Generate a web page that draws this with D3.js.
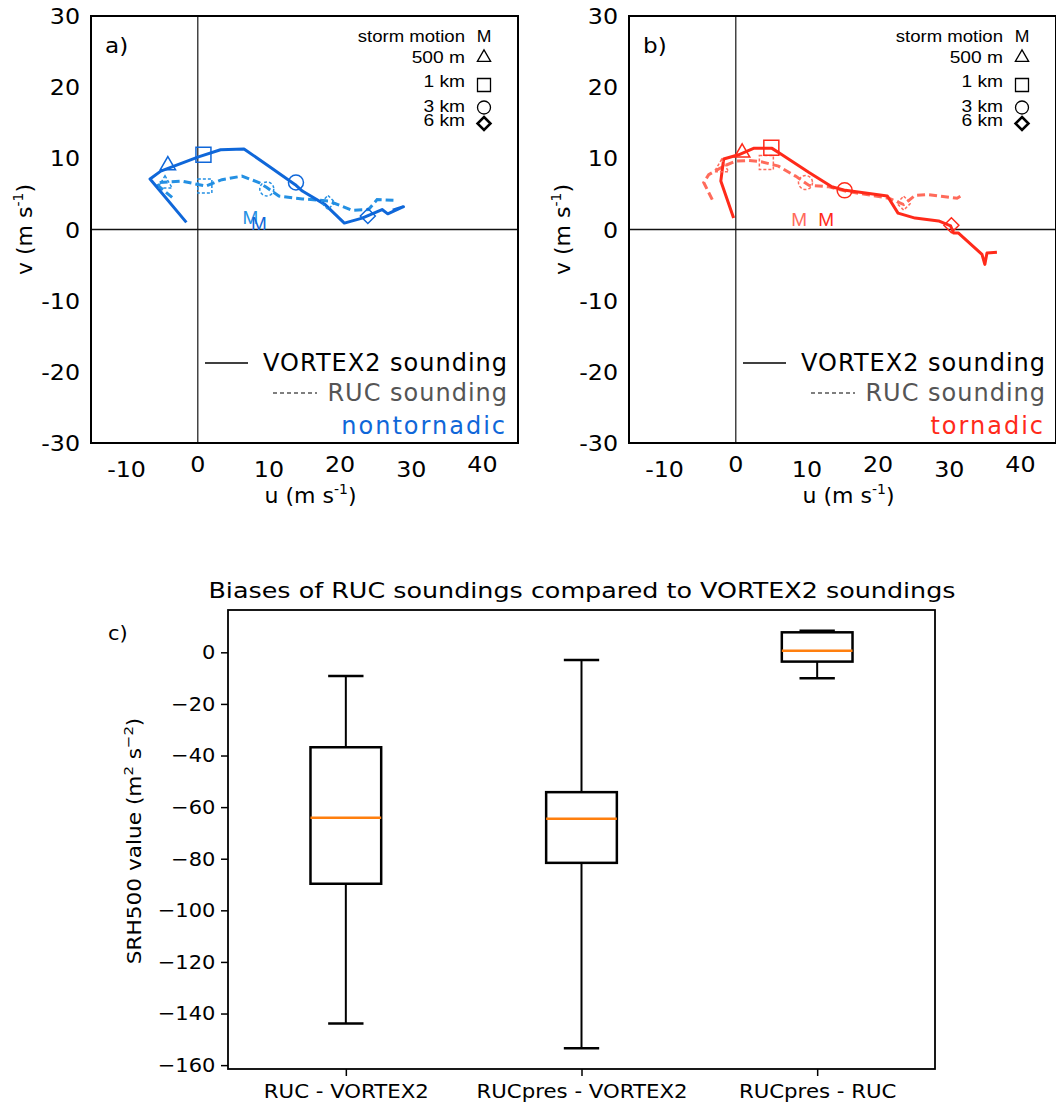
<!DOCTYPE html>
<html lang="en">
<head>
<meta charset="UTF-8">
<title>Hodographs and SRH500 biases</title>
<script src="https://d3js.org/d3.v7.min.js"></script>
<style>
  body { margin: 0; background: #fff; }
  svg { display: block; font-family: "DejaVu Sans", sans-serif; }
</style>
</head>
<body>
<svg width="1056" height="1105"></svg>
<script>
// hodograph a) nontornadic, [u, v] in m/s
const nonTorVortex = [[-1.6,1.0],[-6.7,7.1],[-5.2,8.2],[0.1,10.2],[3.2,11.2],[6.5,11.3],[10.0,8.9],[13.7,6.3],[14.7,5.4],[17.9,3.5],[20.6,0.9],[23.1,1.6],[25.9,2.8],[26.7,2.2],[28.9,3.2],[27.4,2.7]];
const nonTorRuc = [[-3.6,4.5],[-5.5,6.1],[-5.7,6.6],[-2.2,6.8],[1.1,6.1],[3.4,7.0],[6.2,7.5],[8.6,6.6],[9.7,5.9],[11.4,4.7],[14.7,4.3],[18.4,4.0],[21.7,2.7],[24.0,2.8],[25.2,4.2],[27.5,4.1]];
const nonTorVortexLevels = [[-4.2,9.0],[0.8,10.5],[13.8,6.6],[23.9,1.9]];   // 500 m, 1 km, 3 km, 6 km
const nonTorRucLevels = [[-4.6,6.4],[1.0,6.1],[9.7,5.7],[18.3,3.8]];
const nonTorMotion = [[7.4,1.8],[8.6,0.9]];   // RUC, VORTEX2

// hodograph b) tornadic
const torVortex = [[-0.3,1.6],[-2.1,6.8],[-1.7,9.9],[0.4,10.5],[2.5,11.4],[5.1,11.4],[6.5,10.5],[10.3,8.0],[13.5,6.0],[15.4,5.5],[21.3,4.7],[22.8,2.3],[25.2,1.6],[28.5,1.2],[30.2,0.5],[30.6,-0.5],[31.3,-0.5],[34.6,-3.5],[35.0,-4.9],[35.3,-3.3],[36.7,-3.2]];
const torRuc = [[-3.3,4.2],[-4.5,6.6],[-3.8,7.7],[-1.7,8.9],[0.0,9.6],[1.8,9.7],[3.7,9.5],[6.0,8.9],[8.4,7.5],[10.3,6.2],[13.1,6.0],[15.4,5.4],[21.5,4.4],[23.6,3.5],[25.2,4.8],[27.1,4.9],[31.1,4.4],[31.8,4.8]];
const torVortexLevels = [[0.9,10.8],[5.0,11.5],[15.3,5.5],[30.3,0.6]];
const torRucLevels = [[-2.0,8.7],[4.3,9.4],[9.8,6.6],[23.6,3.7]];
const torMotion = [[8.9,1.5],[12.7,1.5]];

const hodoTicksX = [-10, 0, 10, 20, 30, 40];
const hodoTicksY = [-30, -20, -10, 0, 10, 20, 30];
const levelNames = ["500 m", "1 km", "3 km", "6 km"];
const levelShapes = ["triangle", "square", "circle", "diamond"];

// c) box plot of SRH500 biases
const boxCats = ["RUC - VORTEX2", "RUCpres - VORTEX2", "RUCpres - RUC"];
const boxLow = [-143.9, -153.5, -10.1];
const boxQ1 = [-89.7, -81.6, -3.6];
const boxMed = [-64.1, -64.5, 0.6];
const boxQ3 = [-36.8, -54.2, 7.75];
const boxHigh = [-9.2, -3.0, 8.4];
const boxTicks = [-160, -140, -120, -100, -80, -60, -40, -20, 0];

const svg = d3.select("svg");

function shapePath(shape, s) {
    if (shape === "triangle") return d3.symbol(d3.symbolTriangle, s * s * 0.45)();
    if (shape === "square") return `M${-s/2},${-s/2}h${s}v${s}h${-s}Z`;
    if (shape === "circle") return d3.symbol(d3.symbolCircle, Math.PI * s * s / 4)();
    return `M0,${-s/2}L${s/2},0L0,${s/2}L${-s/2},0Z`;
}

// text that is a little wider than the font draws it (the figure's text looks stretched)
function wideText(g, x, y, str, anchor, size, sx) {
    return g.append("g").attr("transform", `translate(${x},${y}) scale(${sx},1)`)
        .append("text").attr("text-anchor", anchor).attr("font-size", size).text(str);
}

function addUnitLabel(sel, base, sup) {
    sel.append("tspan").text(base);
    sel.append("tspan").attr("dy", -9).attr("font-size", 14).text(sup);
    sel.append("tspan").attr("dy", 9).text(")");
}

function drawHodo(left, opts) {
    const top = 16, size = 427;
    const x = d3.scaleLinear().domain([-15, 45]).range([left, left + size]);
    const y = d3.scaleLinear().domain([-30, 30]).range([top + size, top]);
    const g = svg.append("g");

    // zero lines
    g.append("line").attr("x1", x(0)).attr("x2", x(0)).attr("y1", top).attr("y2", top + size)
        .attr("stroke", "#444").attr("stroke-width", 1.5);
    g.append("line").attr("x1", left).attr("x2", left + size).attr("y1", y(0)).attr("y2", y(0))
        .attr("stroke", "#111").attr("stroke-width", 1.5);

    const line = d3.line().x(d => x(d[0])).y(d => y(d[1]));
    g.append("path").attr("d", line(opts.ruc)).attr("fill", "none")
        .attr("stroke", opts.dashColor).attr("stroke-width", 3).attr("stroke-dasharray", "8 4");
    g.append("path").attr("d", line(opts.vortex)).attr("fill", "none")
        .attr("stroke", opts.color).attr("stroke-width", 3).attr("stroke-linejoin", "round");

    // height markers
    opts.rucLevels.forEach((d, i) => {
        g.append("path").attr("d", shapePath(levelShapes[i], 14))
            .attr("transform", `translate(${x(d[0])},${y(d[1])})`)
            .attr("fill", "none").attr("stroke", opts.dashColor).attr("stroke-width", 1.5)
            .attr("stroke-dasharray", "3 2");
    });
    opts.vortexLevels.forEach((d, i) => {
        g.append("path").attr("d", shapePath(levelShapes[i], 15))
            .attr("transform", `translate(${x(d[0])},${y(d[1])})`)
            .attr("fill", "none").attr("stroke", opts.color).attr("stroke-width", 1.5);
    });

    // storm motion
    opts.motion.forEach((d, i) => {
        g.append("text").attr("x", x(d[0])).attr("y", y(d[1]) + 7)
            .attr("text-anchor", "middle").attr("font-family", "Liberation Sans, Arial, sans-serif")
            .attr("font-size", 19).attr("fill", i === 0 ? opts.dashColor : opts.color).text("M");
    });

    // frame
    g.append("rect").attr("x", left).attr("y", top).attr("width", size).attr("height", size)
        .attr("fill", "none").attr("stroke", "#000").attr("stroke-width", 2);

    // tick labels (no tick marks in the reference)
    hodoTicksX.forEach((d, i) => {
        wideText(g, x(d), top + size + 29 + (i % 2 === 0 ? 5 : 0), d, "middle", 22, 1.08);
    });
    hodoTicksY.forEach(d => {
        wideText(g, left - 11, y(d) + 8, d, "end", 22, 1.08);
    });

    const xl = g.append("text").attr("x", left + size / 2 + 6).attr("y", top + size + 60)
        .attr("text-anchor", "middle").attr("font-size", 22);
    addUnitLabel(xl, "u (m s", "-1");
    const yl = g.append("text").attr("transform", `translate(${left - 59},${y(0)}) rotate(-90)`)
        .attr("text-anchor", "middle").attr("font-size", 22);
    addUnitLabel(yl, "v (m s", "-1");

    wideText(g, left + 14, top + 37, opts.label, "start", 21, 1.1);

    // marker key
    const key = g.append("g").attr("font-family", "Liberation Sans, Arial, sans-serif");
    const kx = left + 374, mx = left + 393;
    wideText(key, kx, top + 26, "storm motion", "end", 16, 1.16);
    wideText(key, mx, top + 26, "M", "middle", 16, 1.1);
    const rows = [47, 71, 96, 110];
    const markDy = [-5.5, -2, -4.5, -2.5];
    levelNames.forEach((name, i) => {
        wideText(key, kx, top + rows[i], name, "end", 16, 1.2);
        key.append("path").attr("d", shapePath(levelShapes[i], 13))
            .attr("transform", `translate(${mx},${top + rows[i] + markDy[i]})`)
            .attr("fill", "none").attr("stroke", "#000").attr("stroke-width", i === 3 ? 2.5 : 1.3);
    });

    // line key
    g.append("line").attr("x1", left + 114).attr("x2", left + 157).attr("y1", top + 347).attr("y2", top + 347)
        .attr("stroke", "#000").attr("stroke-width", 1.5);
    g.append("text").attr("x", left + 417).attr("y", top + 355).attr("text-anchor", "end")
        .attr("font-size", 24).attr("letter-spacing", 1).text("VORTEX2 sounding");
    g.append("line").attr("x1", left + 182).attr("x2", left + 226).attr("y1", top + 377).attr("y2", top + 377)
        .attr("stroke", "#000").attr("stroke-width", 1.2).attr("stroke-dasharray", "4 3");
    g.append("text").attr("x", left + 417).attr("y", top + 385).attr("text-anchor", "end")
        .attr("font-size", 24).attr("letter-spacing", 1).attr("fill", "#555").text("RUC sounding");
    g.append("text").attr("x", left + 416).attr("y", top + 418).attr("text-anchor", "end")
        .attr("font-size", 24).attr("letter-spacing", 2).attr("fill", opts.color).text(opts.title);
}

drawHodo(91, {
    label: "a)", title: "nontornadic", color: "#0f67d9", dashColor: "#2490e3",
    vortex: nonTorVortex, ruc: nonTorRuc, vortexLevels: nonTorVortexLevels,
    rucLevels: nonTorRucLevels, motion: nonTorMotion
});
drawHodo(629, {
    label: "b)", title: "tornadic", color: "#ff2a1a", dashColor: "#ff6b5b",
    vortex: torVortex, ruc: torRuc, vortexLevels: torVortexLevels,
    rucLevels: torRucLevels, motion: torMotion
});

// ---- box plot ----
const bx = d3.scaleLinear().domain([0.5, 3.5]).range([228, 935]);
const by = d3.scaleLinear().domain([-161.5, 16.4]).range([1069, 610]);
const bg = svg.append("g");
const half = (bx(1.15) - bx(0.85)) / 2;
const capHalf = half / 2;

boxCats.forEach((c, i) => {
    const cx = bx(i + 1);
    bg.append("line").attr("x1", cx).attr("x2", cx).attr("y1", by(boxHigh[i])).attr("y2", by(boxQ3[i]))
        .attr("stroke", "#000").attr("stroke-width", 2);
    bg.append("line").attr("x1", cx).attr("x2", cx).attr("y1", by(boxQ1[i])).attr("y2", by(boxLow[i]))
        .attr("stroke", "#000").attr("stroke-width", 2);
    [boxHigh[i], boxLow[i]].forEach(v => {
        bg.append("line").attr("x1", cx - capHalf).attr("x2", cx + capHalf).attr("y1", by(v)).attr("y2", by(v))
            .attr("stroke", "#000").attr("stroke-width", 2.5);
    });
    bg.append("rect").attr("x", cx - half).attr("y", by(boxQ3[i])).attr("width", half * 2)
        .attr("height", by(boxQ1[i]) - by(boxQ3[i])).attr("fill", "none")
        .attr("stroke", "#000").attr("stroke-width", 2.5);
    bg.append("line").attr("x1", cx - half).attr("x2", cx + half).attr("y1", by(boxMed[i])).attr("y2", by(boxMed[i]))
        .attr("stroke", "#ff7f0e").attr("stroke-width", 2.5);
});

bg.append("rect").attr("x", 228).attr("y", 610).attr("width", 707).attr("height", 459)
    .attr("fill", "none").attr("stroke", "#000").attr("stroke-width", 1.8);

const yAxis = d3.axisLeft(by).tickValues(boxTicks).tickSize(7).tickPadding(5)
    .tickFormat(d => d < 0 ? "\u2212" + Math.abs(d) : String(d));
bg.append("g").attr("transform", "translate(228,0)").call(yAxis)
    .call(s => s.select(".domain").remove())
    .call(s => s.selectAll("line").attr("stroke-width", 1.5))
    .call(s => s.selectAll("text").attr("font-size", 20).attr("font-family", "DejaVu Sans")
        .attr("transform", "scale(1.05,1)"));

const xAxis = d3.axisBottom(bx).tickValues([1, 2, 3]).tickSize(7).tickPadding(9)
    .tickFormat(d => boxCats[d - 1]);
bg.append("g").attr("transform", "translate(0,1069)").call(xAxis)
    .call(s => s.select(".domain").remove())
    .call(s => s.selectAll("line").attr("stroke-width", 1.5))
    .call(s => s.selectAll("text").attr("font-size", 19).attr("font-family", "DejaVu Sans")
        .attr("transform", "scale(1.12,1)"));

wideText(bg, 582, 598, "Biases of RUC soundings compared to VORTEX2 soundings", "middle", 21, 1.21);
wideText(bg, 108, 640, "c)", "start", 20, 1.05);

const srh = bg.append("text").attr("transform", "translate(141,841) scale(1,1.14) rotate(-90)")
    .attr("text-anchor", "middle").attr("font-size", 19);
srh.append("tspan").text("SRH500 value (m");
srh.append("tspan").attr("dy", -8).attr("font-size", 13).text("2");
srh.append("tspan").attr("dy", 8).text(" s");
srh.append("tspan").attr("dy", -8).attr("font-size", 13).text("\u22122");
srh.append("tspan").attr("dy", 8).text(")");
</script>
</body>
</html>
